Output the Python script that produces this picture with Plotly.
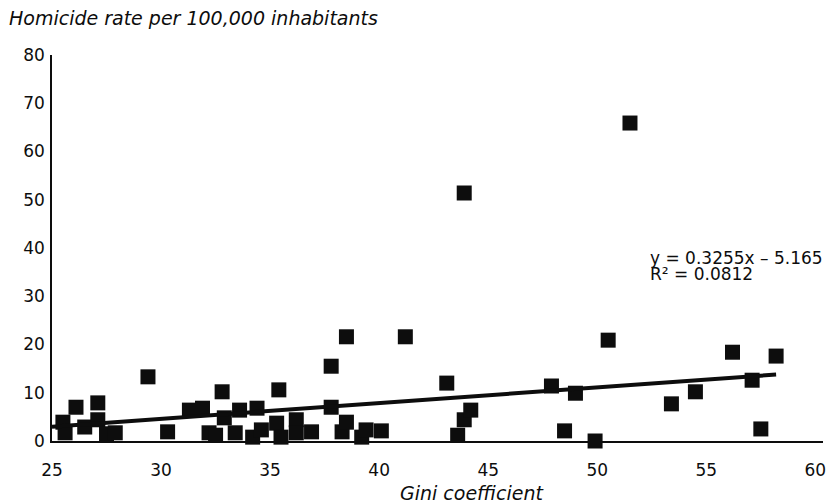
import plotly.graph_objects as go

# Gini coefficient vs homicide rate per 100,000 inhabitants
gini = [24.8, 25.5, 25.6, 26.1, 26.5, 27.1, 27.1, 27.5, 27.9, 29.4,
        30.3, 31.3, 31.9, 32.2, 32.5, 32.8, 32.9, 33.4, 33.6, 34.2,
        34.4, 34.6, 35.3, 35.4, 35.5, 36.2, 36.2, 36.9, 37.8, 37.8,
        38.3, 38.5, 38.5, 39.2, 39.4, 40.1, 41.2, 43.1, 43.6, 43.9,
        44.2, 43.9, 47.9, 48.5, 49.0, 49.9, 50.5, 51.5, 53.4, 54.5,
        56.2, 57.1, 57.5, 58.2]
homicide = [5.9, 3.9, 1.7, 7.0, 2.9, 7.9, 4.4, 1.5, 1.7, 13.3,
            1.9, 6.4, 6.8, 1.7, 1.2, 10.2, 4.8, 1.7, 6.4, 0.8,
            6.8, 2.3, 3.7, 10.6, 0.8, 4.4, 1.7, 1.9, 15.5, 7.0,
            1.9, 3.9, 21.6, 0.8, 2.3, 2.1, 21.6, 12.0, 1.2, 4.4,
            6.4, 51.4, 11.4, 2.1, 9.9, 0.0, 20.9, 65.9, 7.7, 10.2,
            18.4, 12.6, 2.5, 17.6]

slope = 0.3255
intercept = -5.165
r_squared = 0.0812

x_range = [25, 60.35]
y_range = [0, 80]
x_ticks = [25, 30, 35, 40, 45, 50, 55, 60]
y_ticks = [0, 10, 20, 30, 40, 50, 60, 70, 80]

trend_x = [x_range[0], max(gini)]
trend_y = [slope * v + intercept for v in trend_x]

FONT = "DejaVu Sans"
INK = "#0d0d0d"

# figure is drawn inside the page's default 8px body margin
W, H = 830, 496
L, R, T, B = 44, 12, 47, 63
PW, PH = W - L - R, H - T - B


def px(xp):
    return (xp - L) / PW


def py(yp):
    return (T + PH - yp) / PH


fig = go.Figure()
fig.add_trace(go.Scatter(
    x=gini, y=homicide, mode="markers",
    marker=dict(symbol="square", size=15, color=INK, line=dict(width=0)),
    cliponaxis=False, showlegend=False, hoverinfo="x+y"))
fig.add_trace(go.Scatter(
    x=trend_x, y=trend_y, mode="lines",
    line=dict(color=INK, width=4), showlegend=False, hoverinfo="skip"))

fig.update_layout(
    width=W, height=H,
    margin=dict(l=L, r=R, t=T, b=B),
    paper_bgcolor="white", plot_bgcolor="white",
    font=dict(family=FONT, size=16, color=INK),
    xaxis=dict(range=x_range, tickvals=x_ticks, showgrid=False, zeroline=False,
               showline=True, linecolor=INK, linewidth=1.5,
               ticks="outside", ticklen=13, tickcolor="rgba(0,0,0,0)",
               tickfont=dict(family=FONT, size=17, color=INK)),
    yaxis=dict(range=y_range, tickvals=y_ticks, showgrid=False, zeroline=False,
               showline=True, linecolor=INK, linewidth=1.5,
               ticks="outside", ticklen=2, tickcolor="rgba(0,0,0,0)",
               tickfont=dict(family=FONT, size=17, color=INK)),
    annotations=[
        dict(text="<i>Homicide rate per 100,000 inhabitants</i>", xref="paper", yref="paper",
             x=px(-1), y=py(10), xanchor="left", yanchor="middle", showarrow=False,
             font=dict(family=FONT, size=19, color=INK)),
        dict(text="<i>Gini coefficient</i>", xref="paper", yref="paper",
             x=px(466), y=py(485), xanchor="center", yanchor="middle", showarrow=False,
             font=dict(family=FONT, size=19, color=INK)),
        dict(text=f"y = {slope}x – {abs(intercept)}", xref="paper", yref="paper",
             x=px(642), y=py(250), xanchor="left", yanchor="middle", showarrow=False,
             font=dict(family=FONT, size=17, color=INK)),
        dict(text=f"R² = {r_squared}", xref="paper", yref="paper",
             x=px(642), y=py(266), xanchor="left", yanchor="middle", showarrow=False,
             font=dict(family=FONT, size=17, color=INK)),
    ],
)

fig.write_html("out.html")
